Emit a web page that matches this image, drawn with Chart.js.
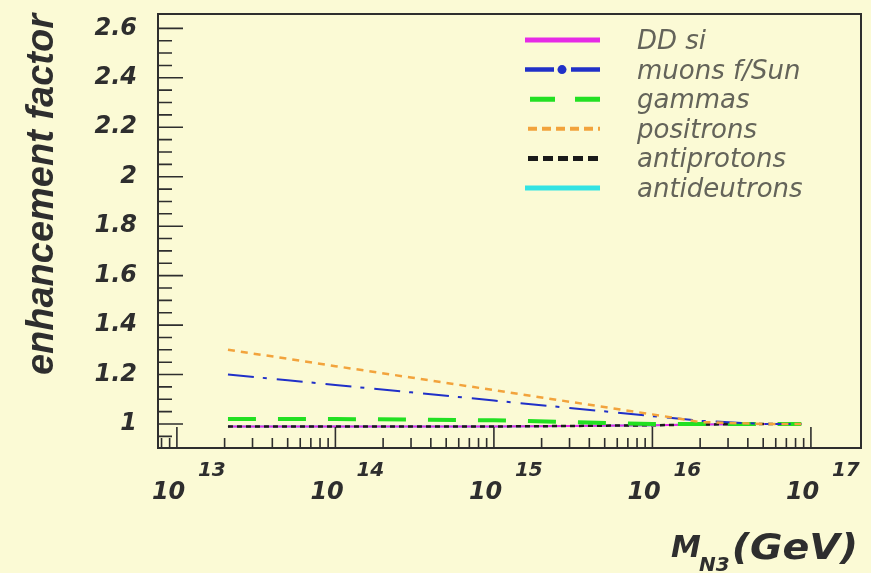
<!DOCTYPE html>
<html>
<head>
<meta charset="utf-8">
<script src="https://cdn.jsdelivr.net/npm/chart.js@4.4.0/dist/chart.umd.min.js"></script>
<style>
  html, body { margin: 0; padding: 0; background: #fbfad5; }
  #contenedor { width: 871px; height: 573px; }
</style>
</head>
<body>
<div id="contenedor"><canvas id="grafico"></canvas></div>
<script>
// Masas M_N3 (GeV) donde se leyeron los valores del gráfico
const masas = [2.1e13, 5e13, 1e14, 3e14, 1e15, 3e15, 1e16, 2e16, 5e16, 8.7e16];

// Factor de aumento por canal
const ddSi           = [0.99, 0.99, 0.99, 0.99, 0.99, 0.992, 0.995, 0.998, 1.0, 1.0];
const muones         = [1.20, 1.177, 1.158, 1.128, 1.095, 1.065, 1.032, 1.013, 1.0, 1.0];
const gammas         = [1.02, 1.02, 1.02, 1.018, 1.015, 1.008, 1.0, 1.0, 1.0, 1.0];
const positrones     = [1.30, 1.264, 1.234, 1.188, 1.137, 1.090, 1.039, 1.008, 1.0, 1.0];
const antiprotones   = [0.99, 0.99, 0.99, 0.99, 0.99, 0.992, 0.995, 0.998, 1.0, 1.0];
const antideuterones = [0.99, 0.99, 0.99, 0.99, 0.99, 0.992, 0.995, 0.998, 1.0, 1.0];

const etiquetas = ['DD si', 'muons f/Sun', 'gammas', 'positrons', 'antiprotons', 'antideutrons'];

// Marcas de los ejes
const yTicks = [1, 1.2, 1.4, 1.6, 1.8, 2, 2.2, 2.4, 2.6];
const yTickLabels = ['1', '1.2', '1.4', '1.6', '1.8', '2', '2.2', '2.4', '2.6'];
const xExponentes = [13, 14, 15, 16, 17];

const TINTA = '#2e2e2e';

function serie(valores) {
    return masas.map((m, i) => ({ x: m, y: valores[i] }));
}

// Leyenda dibujada a mano (estilo ROOT, dentro del área del gráfico)
const leyendaROOT = {
    id: 'leyendaROOT',
    afterDraw(chart) {
        const ctx = chart.ctx;
        const x0 = 525, x1 = 600, yIni = 40, paso = 29.6;
        ctx.save();
        ctx.font = 'italic 26px "DejaVu Sans"';
        ctx.textBaseline = 'alphabetic';
        etiquetas.forEach((txt, i) => {
            const y = yIni + i * paso;
            ctx.lineCap = 'butt';
            ctx.setLineDash([]);
            if (i === 0) {
                ctx.strokeStyle = '#e62ae6'; ctx.lineWidth = 5;
                ctx.beginPath(); ctx.moveTo(x0, y); ctx.lineTo(x1, y); ctx.stroke();
            } else if (i === 1) {
                ctx.strokeStyle = '#2030c8'; ctx.lineWidth = 4.5;
                ctx.beginPath(); ctx.moveTo(x0, y); ctx.lineTo(554, y); ctx.moveTo(571, y); ctx.lineTo(x1, y); ctx.stroke();
                ctx.fillStyle = '#2030c8';
                ctx.beginPath(); ctx.arc(562, y, 4.5, 0, Math.PI * 2); ctx.fill();
            } else if (i === 2) {
                ctx.strokeStyle = '#22e022'; ctx.lineWidth = 5;
                ctx.setLineDash([25, 20]);
                ctx.beginPath(); ctx.moveTo(530, y); ctx.lineTo(x1, y); ctx.stroke();
            } else if (i === 3) {
                ctx.strokeStyle = '#f2a33c'; ctx.lineWidth = 4;
                ctx.setLineDash([9, 5]);
                ctx.beginPath(); ctx.moveTo(528, y); ctx.lineTo(x1, y); ctx.stroke();
            } else if (i === 4) {
                ctx.strokeStyle = '#1a1a1a'; ctx.lineWidth = 5;
                ctx.setLineDash([10, 5]);
                ctx.beginPath(); ctx.moveTo(528, y); ctx.lineTo(x1, y); ctx.stroke();
            } else {
                ctx.strokeStyle = '#33e3e3'; ctx.lineWidth = 5;
                ctx.beginPath(); ctx.moveTo(x0, y); ctx.lineTo(x1, y); ctx.stroke();
            }
            ctx.setLineDash([]);
            ctx.fillStyle = '#64645a';
            ctx.fillText(txt, 637, y + 9);
        });
        ctx.restore();
    }
};

// Marco, marcas hacia adentro y etiquetas 10^n del eje x
const ejesROOT = {
    id: 'ejesROOT',
    afterDraw(chart) {
        const { ctx, chartArea: a, scales: { x, y } } = chart;
        ctx.save();
        ctx.strokeStyle = TINTA;
        ctx.lineWidth = 2;
        ctx.setLineDash([]);
        ctx.strokeRect(a.left, a.top, a.right - a.left, a.bottom - a.top);

        ctx.lineWidth = 1.6;
        ctx.beginPath();
        // eje y: mayores cada 0.2, menores cada 0.05
        for (let k = 19; k <= 53; k++) {
            const v = k * 0.05;
            const py = y.getPixelForValue(v);
            if (py < a.top + 3 || py > a.bottom - 3) continue;
            const mayor = yTicks.some(t => Math.abs(t - v) < 1e-6);
            ctx.moveTo(a.left, py);
            ctx.lineTo(a.left + (mayor ? 25 : 14), py);
        }
        // eje x logarítmico
        for (let n = 12; n <= 17; n++) {
            for (let d = 1; d <= 9; d++) {
                const v = d * Math.pow(10, n);
                const px = x.getPixelForValue(v);
                if (px < a.left + 3 || px > a.right - 3) continue;
                ctx.moveTo(px, a.bottom);
                ctx.lineTo(px, a.bottom - (d === 1 ? 21 : 10));
            }
        }
        ctx.stroke();

        ctx.fillStyle = TINTA;
        ctx.textBaseline = 'alphabetic';
        xExponentes.forEach(n => {
            const px = x.getPixelForValue(Math.pow(10, n));
            ctx.font = 'italic bold 24px "DejaVu Sans"';
            ctx.textAlign = 'left';
            ctx.fillText('10', px - 25, 499);
            ctx.font = 'italic bold 20px "DejaVu Sans"';
            ctx.fillText(String(n), px + 21, 476);
        });

        // título del eje x: M_N3 (GeV)
        ctx.textAlign = 'left';
        ctx.font = 'italic bold 30px "DejaVu Sans"';
        ctx.fillText('M', 671, 557);
        ctx.font = 'italic bold 20px "DejaVu Sans"';
        ctx.fillText('N3', 699, 571);
        ctx.save();
        ctx.translate(858, 559);
        ctx.scale(1.1, 1);
        ctx.font = 'italic bold 36px "DejaVu Sans"';
        ctx.textAlign = 'right';
        ctx.fillText('(GeV)', 0, 0);
        ctx.restore();
        ctx.restore();
    }
};

const ctx = document.getElementById('grafico');
new Chart(ctx, {
    type: 'line',
    data: {
        datasets: [
            { label: etiquetas[0], data: serie(ddSi), borderColor: '#e62ae6', borderWidth: 2, order: 5 },
            { label: etiquetas[1], data: serie(muones), borderColor: '#2030c8', borderWidth: 2, borderDash: [26, 9, 4, 10], order: 2 },
            { label: etiquetas[2], data: serie(gammas), borderColor: '#22e022', borderWidth: 4, borderDash: [28, 22], order: 3 },
            { label: etiquetas[3], data: serie(positrones), borderColor: '#f2a33c', borderWidth: 2.5, borderDash: [7, 6], order: 1 },
            { label: etiquetas[4], data: serie(antiprotones), borderColor: '#1a1a1a', borderWidth: 2.5, borderDash: [5, 4], order: 4 },
            { label: etiquetas[5], data: serie(antideuterones), borderColor: '#33e3e3', borderWidth: 2, order: 6 }
        ]
    },
    options: {
        responsive: true,
        maintainAspectRatio: false,
        animation: false,
        elements: { point: { radius: 0 }, line: { tension: 0, fill: false } },
        layout: { padding: { top: 14, right: 10, left: 0, bottom: 0 } },
        plugins: {
            legend: { display: false },
            tooltip: { enabled: false }
        },
        scales: {
            x: {
                type: 'logarithmic',
                min: 7.6e12,
                max: 2.07e17,
                grid: { display: false, drawTicks: false },
                border: { display: false },
                ticks: { display: false },
                afterFit: (s) => { s.height = 125; s.paddingLeft = 0; s.paddingRight = 0; }
            },
            y: {
                type: 'linear',
                min: 0.903,
                max: 2.658,
                grid: { display: false, drawTicks: false },
                border: { display: false },
                afterBuildTicks: (s) => { s.ticks = yTicks.map(v => ({ value: v })); },
                ticks: {
                    padding: 21,
                    color: TINTA,
                    font: { family: 'DejaVu Sans', size: 24, style: 'italic', weight: 'bold' },
                    callback: (v, i) => yTickLabels[i]
                },
                title: {
                    display: true,
                    text: 'enhancement factor',
                    align: 'end',
                    color: TINTA,
                    padding: { top: 20 },
                    font: { family: 'Liberation Sans', size: 38, style: 'italic', weight: 'bold' }
                },
                afterFit: (s) => { s.width = 158; s.paddingTop = 0; s.paddingBottom = 0; }
            }
        }
    },
    plugins: [ejesROOT, leyendaROOT]
});
</script>
</body>
</html>
